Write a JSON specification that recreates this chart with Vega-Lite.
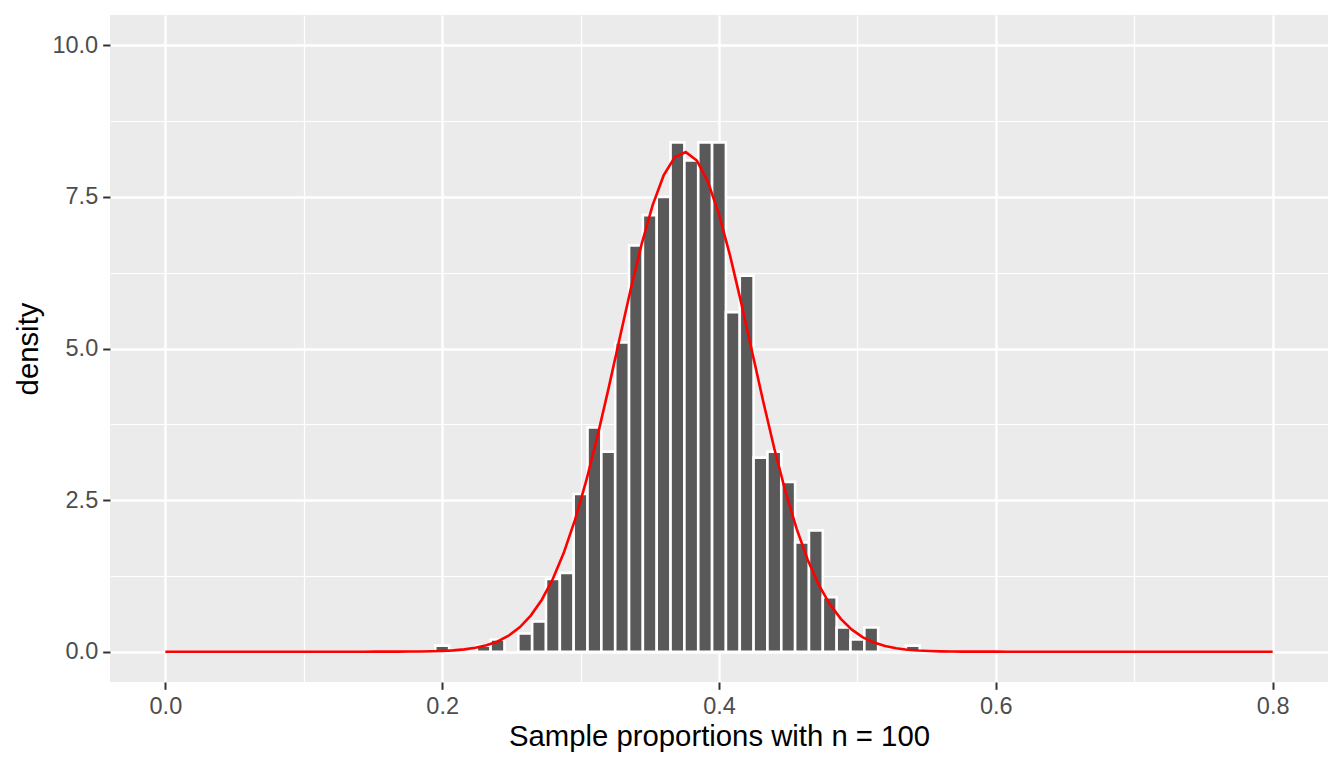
{
  "$schema": "https://vega.github.io/schema/vega-lite/v6.json",
  "width": 1218,
  "height": 667,
  "autosize": {"type": "none"},
  "padding": {"left": 110, "top": 15, "right": 16, "bottom": 86},
  "background": "white",
  "config": {
    "view": {"fill": "#EBEBEB", "stroke": null},
    "font": "Liberation Sans",
    "axis": {
      "domain": false,
      "gridColor": "white",
      "tickColor": "#333333",
      "tickSize": 7.3,
      "tickWidth": 2,
      "labelColor": "#4D4D4D",
      "labelFont": "Liberation Sans",
      "labelFontSize": 23.5,
      "titleFont": "Liberation Sans",
      "titleFontSize": 29.3,
      "titleColor": "black",
      "titleFontWeight": "normal",
      "labelOverlap": false,
      "labelFlush": false
    }
  },
  "datasets": {
    "bars": [
      {"bin_start": 0.195, "bin_end": 0.205, "density": 0.1},
      {"bin_start": 0.225, "bin_end": 0.235, "density": 0.1},
      {"bin_start": 0.235, "bin_end": 0.245, "density": 0.2},
      {"bin_start": 0.255, "bin_end": 0.265, "density": 0.3},
      {"bin_start": 0.265, "bin_end": 0.275, "density": 0.5},
      {"bin_start": 0.275, "bin_end": 0.285, "density": 1.2},
      {"bin_start": 0.285, "bin_end": 0.295, "density": 1.3},
      {"bin_start": 0.295, "bin_end": 0.305, "density": 2.6},
      {"bin_start": 0.305, "bin_end": 0.315, "density": 3.7},
      {"bin_start": 0.315, "bin_end": 0.325, "density": 3.3},
      {"bin_start": 0.325, "bin_end": 0.335, "density": 5.1},
      {"bin_start": 0.335, "bin_end": 0.345, "density": 6.7},
      {"bin_start": 0.345, "bin_end": 0.355, "density": 7.2},
      {"bin_start": 0.355, "bin_end": 0.365, "density": 7.5},
      {"bin_start": 0.365, "bin_end": 0.375, "density": 8.4},
      {"bin_start": 0.375, "bin_end": 0.385, "density": 8.1},
      {"bin_start": 0.385, "bin_end": 0.395, "density": 8.4},
      {"bin_start": 0.395, "bin_end": 0.405, "density": 8.4},
      {"bin_start": 0.405, "bin_end": 0.415, "density": 5.6},
      {"bin_start": 0.415, "bin_end": 0.425, "density": 6.2},
      {"bin_start": 0.425, "bin_end": 0.435, "density": 3.2},
      {"bin_start": 0.435, "bin_end": 0.445, "density": 3.3},
      {"bin_start": 0.445, "bin_end": 0.455, "density": 2.8},
      {"bin_start": 0.455, "bin_end": 0.465, "density": 1.8},
      {"bin_start": 0.465, "bin_end": 0.475, "density": 2.0},
      {"bin_start": 0.475, "bin_end": 0.485, "density": 0.9},
      {"bin_start": 0.485, "bin_end": 0.495, "density": 0.4},
      {"bin_start": 0.495, "bin_end": 0.505, "density": 0.2},
      {"bin_start": 0.505, "bin_end": 0.515, "density": 0.4},
      {"bin_start": 0.535, "bin_end": 0.545, "density": 0.1}
    ],
    "curve": [
      {"x": 0.0, "density": 0}, {"x": 0.008, "density": 0}, {"x": 0.016, "density": 0}, {"x": 0.024, "density": 0},
      {"x": 0.032, "density": 0}, {"x": 0.04, "density": 0}, {"x": 0.048, "density": 0}, {"x": 0.056, "density": 0},
      {"x": 0.064, "density": 0}, {"x": 0.072, "density": 0}, {"x": 0.08, "density": 0}, {"x": 0.088, "density": 0},
      {"x": 0.096, "density": 0}, {"x": 0.104, "density": 0}, {"x": 0.112, "density": 0}, {"x": 0.12, "density": 0},
      {"x": 0.128, "density": 0}, {"x": 0.136, "density": 0}, {"x": 0.144, "density": 0.0001},
      {"x": 0.152, "density": 0.0002}, {"x": 0.16, "density": 0.0004}, {"x": 0.168, "density": 0.0009},
      {"x": 0.176, "density": 0.0018}, {"x": 0.184, "density": 0.0034}, {"x": 0.192, "density": 0.0065},
      {"x": 0.2, "density": 0.012}, {"x": 0.208, "density": 0.0215}, {"x": 0.216, "density": 0.0375},
      {"x": 0.224, "density": 0.0636}, {"x": 0.232, "density": 0.105}, {"x": 0.24, "density": 0.1688},
      {"x": 0.248, "density": 0.264}, {"x": 0.256, "density": 0.4017}, {"x": 0.264, "density": 0.5949},
      {"x": 0.272, "density": 0.8571}, {"x": 0.28, "density": 1.2018}, {"x": 0.288, "density": 1.6395},
      {"x": 0.296, "density": 2.1764}, {"x": 0.304, "density": 2.8113}, {"x": 0.312, "density": 3.5337},
      {"x": 0.32, "density": 4.322}, {"x": 0.328, "density": 5.1439}, {"x": 0.336, "density": 5.9571},
      {"x": 0.344, "density": 6.713}, {"x": 0.352, "density": 7.3611}, {"x": 0.36, "density": 7.8543},
      {"x": 0.368, "density": 8.1548}, {"x": 0.376, "density": 8.2387}, {"x": 0.384, "density": 8.0993},
      {"x": 0.392, "density": 7.7478}, {"x": 0.4, "density": 7.2119}, {"x": 0.408, "density": 6.5323},
      {"x": 0.416, "density": 5.7572}, {"x": 0.424, "density": 4.9374}, {"x": 0.432, "density": 4.1204},
      {"x": 0.44, "density": 3.3459}, {"x": 0.448, "density": 2.6438}, {"x": 0.456, "density": 2.0327},
      {"x": 0.464, "density": 1.5208}, {"x": 0.472, "density": 1.1072}, {"x": 0.48, "density": 0.7843},
      {"x": 0.488, "density": 0.5407}, {"x": 0.496, "density": 0.3626}, {"x": 0.504, "density": 0.2367},
      {"x": 0.512, "density": 0.1503}, {"x": 0.52, "density": 0.0929}, {"x": 0.528, "density": 0.0559},
      {"x": 0.536, "density": 0.0327}, {"x": 0.544, "density": 0.0186}, {"x": 0.552, "density": 0.0103},
      {"x": 0.56, "density": 0.0056}, {"x": 0.568, "density": 0.0029}, {"x": 0.576, "density": 0.0015},
      {"x": 0.584, "density": 0.0007}, {"x": 0.592, "density": 0.0004}, {"x": 0.6, "density": 0.0002},
      {"x": 0.608, "density": 0.0001}, {"x": 0.616, "density": 0}, {"x": 0.624, "density": 0},
      {"x": 0.632, "density": 0}, {"x": 0.64, "density": 0}, {"x": 0.648, "density": 0}, {"x": 0.656, "density": 0},
      {"x": 0.664, "density": 0}, {"x": 0.672, "density": 0}, {"x": 0.68, "density": 0}, {"x": 0.688, "density": 0},
      {"x": 0.696, "density": 0}, {"x": 0.704, "density": 0}, {"x": 0.712, "density": 0}, {"x": 0.72, "density": 0},
      {"x": 0.728, "density": 0}, {"x": 0.736, "density": 0}, {"x": 0.744, "density": 0}, {"x": 0.752, "density": 0},
      {"x": 0.76, "density": 0}, {"x": 0.768, "density": 0}, {"x": 0.776, "density": 0}, {"x": 0.784, "density": 0},
      {"x": 0.792, "density": 0}, {"x": 0.8, "density": 0}
    ]
  },
  "layer": [
    {
      "data": {"name": "bars"},
      "mark": {"type": "rect", "fill": "#595959", "stroke": "white", "strokeWidth": 2.6},
      "encoding": {
        "x": {
          "field": "bin_start",
          "type": "quantitative",
          "title": "Sample proportions with n = 100",
          "scale": {"domain": [-0.04, 0.84], "nice": false, "zero": false},
          "axis": {
            "values": [0, 0.1, 0.2, 0.3, 0.4, 0.5, 0.6, 0.7, 0.8],
            "labelExpr": "round(datum.value*10) % 2 == 1 ? '' : format(datum.value, '.1f')",
            "gridWidth": {"condition": {"test": "round(datum.value*10) % 2 == 1", "value": 1.2}, "value": 2.4},
            "tickOpacity": {"condition": {"test": "round(datum.value*10) % 2 == 1", "value": 0}, "value": 1},
            "labelPadding": 5,
            "titlePadding": 5
          }
        },
        "x2": {"field": "bin_end"},
        "y": {
          "field": "density",
          "type": "quantitative",
          "title": "density",
          "scale": {"domain": [-0.5, 10.5], "nice": false, "zero": false},
          "axis": {
            "values": [0, 1.25, 2.5, 3.75, 5, 6.25, 7.5, 8.75, 10],
            "labelExpr": "round(datum.value/1.25) % 2 == 1 ? '' : format(datum.value, '.1f')",
            "gridWidth": {"condition": {"test": "round(datum.value/1.25) % 2 == 1", "value": 1.2}, "value": 2.4},
            "tickOpacity": {"condition": {"test": "round(datum.value/1.25) % 2 == 1", "value": 0}, "value": 1},
            "labelPadding": 5,
            "titlePadding": 8
          }
        },
        "y2": {"datum": 0}
      }
    },
    {
      "data": {"name": "curve"},
      "mark": {"type": "line", "color": "#FF0000", "strokeWidth": 2.6},
      "encoding": {
        "x": {"field": "x", "type": "quantitative", "title": "Sample proportions with n = 100"},
        "y": {"field": "density", "type": "quantitative", "title": "density"}
      }
    }
  ]
}
